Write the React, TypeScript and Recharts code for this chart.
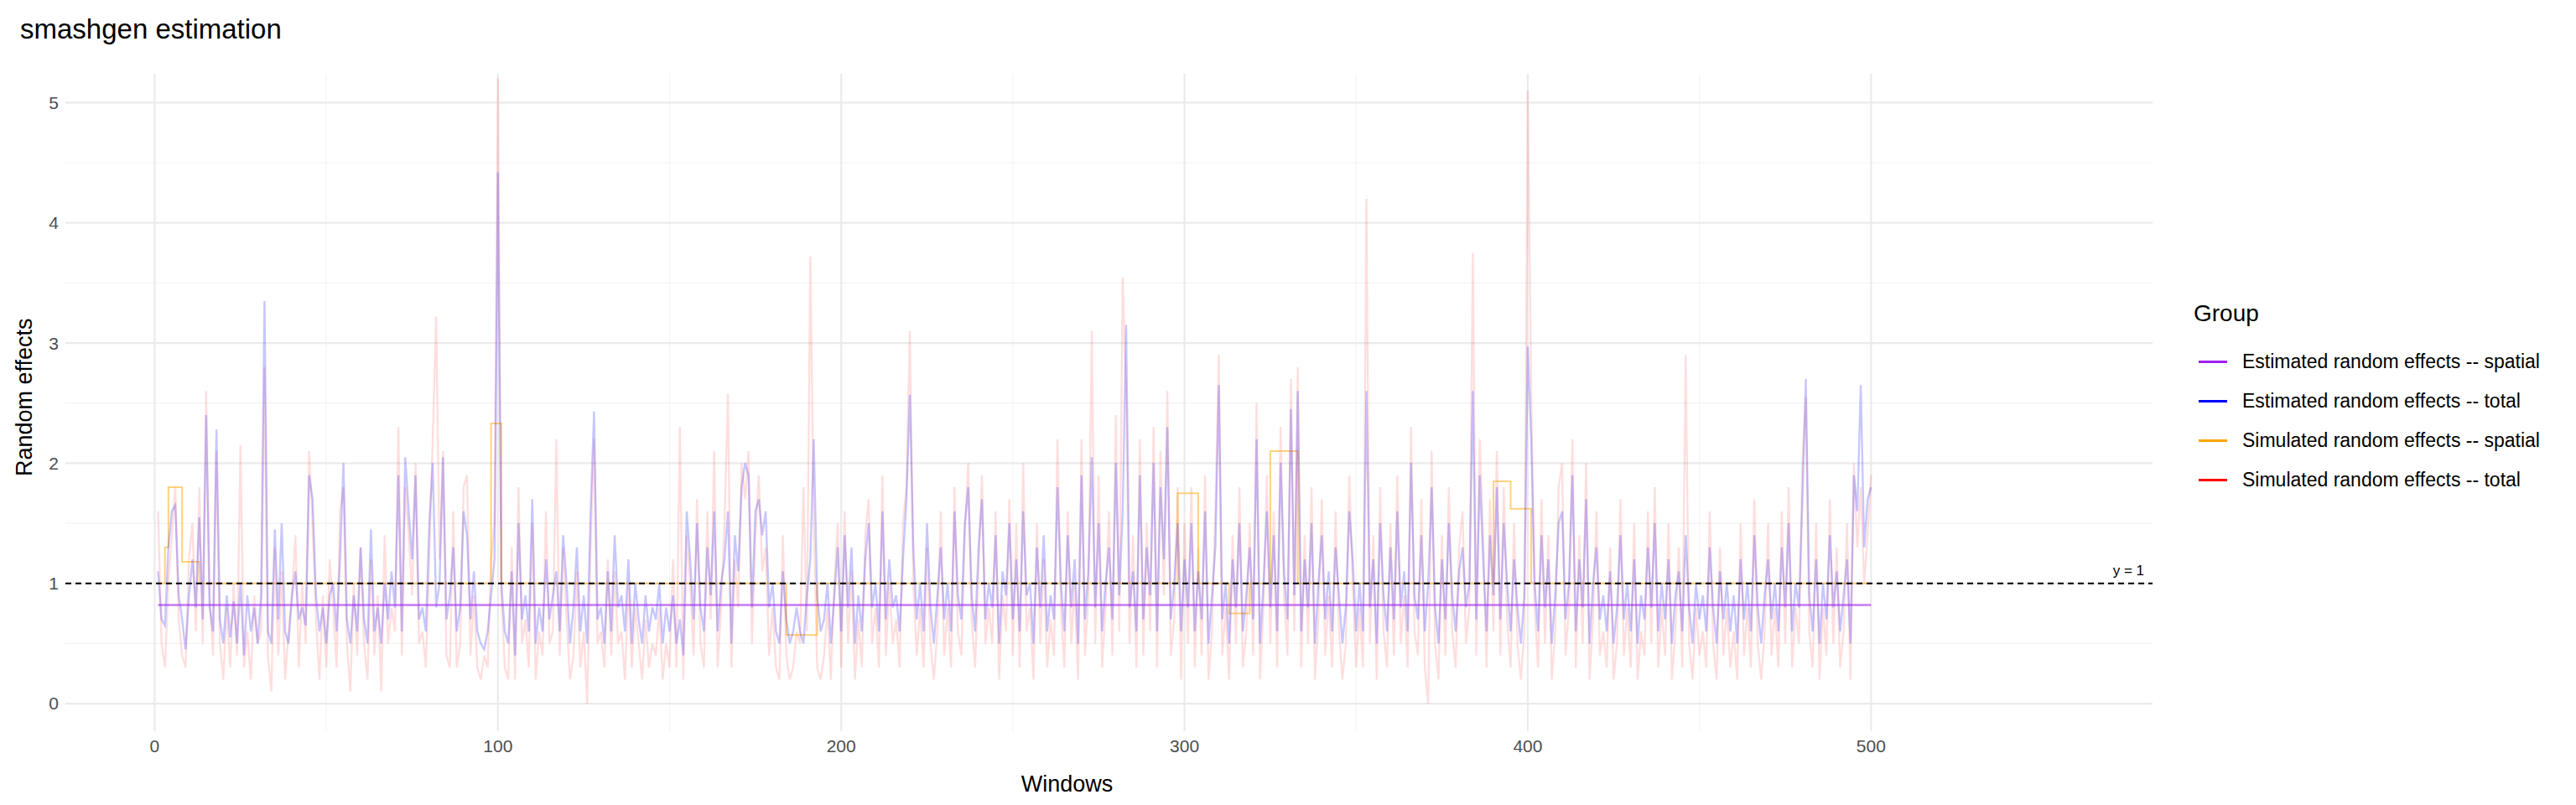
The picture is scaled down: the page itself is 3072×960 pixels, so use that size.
import React from 'react';
import { LineChart, Line, XAxis, YAxis, ReferenceLine } from 'recharts';

const estTotalStr = `1.1 0.7 0.65 1.3 1.6 1.65 0.9 0.7 0.45 0.9 1.2 0.8 1.55 0.7 2.4 0.8 0.6 2.28 0.7 0.5 0.9 0.55 0.85 0.5 1.0 0.4 0.9 0.6 0.8 0.5 0.9 3.35 0.6 0.5 1.45 0.7 1.5 0.6 0.5 0.9 1.1 0.7 0.8 0.65 1.9 1.7 0.9 0.6 0.8 0.5
0.9 1.0 0.6 1.2 2.0 0.7 0.5 0.9 0.6 1.3 0.7 0.5 1.45 0.6 0.8 0.5 1.0 0.7 1.1 0.8 1.9 0.6 2.05 1.6 1.2 1.9 0.7 0.8 0.6 1.5 2.0 0.8 1.0 2.05 0.7 0.9 1.3 0.6 0.8 1.6 1.4 0.7 1.1 0.6 0.5 0.45 0.6 0.9 1.2 4.42
1.0 0.6 0.5 1.1 0.4 1.5 0.7 0.9 0.6 1.7 0.5 0.8 0.6 1.2 0.7 0.9 1.1 0.6 1.4 1.0 0.5 0.8 1.3 0.6 0.9 0.5 1.6 2.43 0.7 0.8 0.5 1.1 0.6 1.4 0.8 0.9 0.6 1.2 0.5 1.0 0.7 0.5 0.9 0.6 0.8 0.7 1.0 0.5 0.8 0.6
0.9 0.5 0.7 0.4 1.6 1.2 0.7 1.5 0.8 0.6 1.3 0.9 1.6 0.6 1.0 1.2 1.6 0.5 1.4 1.1 1.8 2.0 1.9 0.8 1.6 1.7 1.4 1.6 0.8 1.0 0.6 0.5 1.1 0.7 0.5 0.6 0.8 0.6 0.5 0.9 1.2 2.2 0.9 0.6 0.7 1.0 0.5 0.9 1.3 0.6
1.4 0.8 1.3 0.5 0.9 0.6 1.2 1.5 0.8 1.0 0.6 1.6 0.7 1.2 0.8 0.9 0.6 1.2 1.7 2.57 1.3 0.7 1.0 0.6 1.5 0.8 0.5 0.9 1.3 0.7 1.0 0.6 1.6 0.9 0.7 1.5 1.8 0.9 0.6 1.3 1.7 0.7 1.0 0.8 1.4 0.5 1.1 0.9 1.5 0.7
1.2 0.6 1.6 0.9 1.0 0.5 1.3 0.8 1.4 0.6 0.9 0.7 1.8 1.0 0.6 1.4 0.8 1.2 0.5 1.9 0.7 1.1 2.05 0.8 1.5 0.6 1.0 1.3 0.7 2.0 0.9 1.6 3.15 0.8 1.1 0.6 1.9 0.7 1.3 0.9 2.0 0.6 1.8 1.2 2.3 0.7 1.0 1.5 0.6 1.2
0.8 1.5 0.6 1.1 0.7 1.6 0.5 0.9 1.3 2.65 0.7 1.0 0.5 1.2 0.8 1.5 0.6 0.9 1.3 0.7 2.2 0.5 1.0 1.6 0.8 1.4 0.6 2.0 1.1 0.7 2.45 0.9 2.6 0.6 1.2 0.8 1.5 0.5 1.0 1.4 0.7 1.1 0.6 1.3 0.9 0.5 0.8 1.6 1.2 0.6
1.0 0.6 2.6 0.8 1.2 0.5 1.5 0.9 0.6 1.3 0.7 1.6 0.8 1.1 0.6 2.0 0.9 0.7 1.4 0.6 1.0 1.8 0.8 0.5 1.2 0.7 1.5 0.9 0.6 1.1 1.3 0.8 1.0 2.6 0.7 1.9 1.2 0.6 1.4 0.9 1.8 0.7 1.5 1.0 0.6 1.2 0.8 0.5 0.9 2.97
2.2 1.0 0.6 1.4 0.8 1.2 0.5 0.9 1.5 1.6 0.7 1.0 1.9 0.6 1.2 0.8 1.7 0.5 1.0 1.3 0.7 0.9 0.6 1.1 0.5 0.8 1.4 0.7 1.0 0.6 1.2 0.5 0.9 0.7 1.3 0.8 1.5 0.6 1.0 0.7 1.2 0.5 0.9 1.1 0.6 1.4 0.8 0.5 1.0 0.7
0.9 0.6 1.3 0.8 0.5 1.1 0.7 1.0 0.6 0.9 0.5 1.2 0.7 1.0 0.6 1.4 0.8 0.5 0.9 1.2 0.7 1.0 0.6 1.3 0.8 1.5 0.6 1.0 0.8 1.7 2.7 0.9 0.6 1.2 0.5 1.0 0.7 1.4 0.8 1.1 0.6 0.9 1.2 0.5 1.9 1.6 2.65 1.3 1.7 1.8`;

const simTotalStr = `1.6 0.5 0.3 1.0 1.4 1.8 0.7 0.4 0.3 1.2 1.5 0.6 1.8 0.5 2.6 0.9 0.4 2.1 0.5 0.2 0.8 0.3 1.0 0.4 2.15 0.3 0.6 0.2 0.9 0.5 0.6 2.8 0.4 0.1 1.3 0.4 1.1 0.2 0.6 0.9 1.4 0.3 1.0 0.5 2.1 1.5 0.7 0.2 0.9 0.3
1.2 0.8 0.3 1.6 1.8 0.5 0.1 1.0 0.4 1.3 0.5 0.2 1.2 0.4 0.9 0.1 1.4 0.5 0.8 0.6 2.3 0.4 1.8 1.4 0.9 2.0 0.5 0.6 0.3 1.2 2.2 3.22 1.2 2.1 0.4 0.3 1.6 0.3 0.5 1.8 1.9 0.4 0.9 0.3 0.2 0.4 0.3 1.2 1.5 5.2
0.9 0.3 0.2 1.3 0.2 1.8 0.5 0.7 0.3 1.5 0.2 0.6 0.4 1.6 0.5 0.6 2.2 0.4 1.3 0.7 0.2 0.4 1.1 0.3 0.6 0.0 1.3 2.2 0.5 0.6 0.3 1.2 0.4 1.1 0.5 0.6 0.2 1.0 0.3 0.8 0.5 0.2 0.7 0.3 0.5 0.4 0.8 0.2 0.5 0.3
1.2 0.3 2.3 0.2 1.4 1.0 0.4 1.7 0.5 0.3 1.6 0.7 2.1 0.3 0.8 1.5 2.58 0.3 1.2 0.8 2.0 1.7 2.1 0.5 1.4 1.9 1.1 1.3 0.4 0.8 0.3 0.2 1.4 0.4 0.2 0.3 0.6 0.5 1.8 0.6 3.72 1.5 0.3 0.2 0.4 0.8 0.2 1.0 1.5 0.3
1.6 0.5 1.1 0.2 0.7 0.3 1.4 1.7 0.5 0.8 0.3 1.9 0.4 1.0 0.5 0.7 0.3 1.5 1.8 3.1 1.0 0.4 0.8 0.3 1.3 0.5 0.2 0.6 1.6 0.4 0.8 0.3 1.8 0.6 0.4 1.4 2.0 0.7 0.3 1.1 1.9 0.5 0.8 0.5 1.6 0.2 0.9 0.6 1.7 0.4
1.5 0.3 2.0 0.6 0.8 0.2 1.5 0.5 1.2 0.3 0.7 0.4 2.2 0.8 0.3 1.6 0.5 1.0 0.2 2.2 0.4 0.9 3.1 0.5 1.9 0.3 0.8 1.6 0.4 2.4 0.6 3.55 2.6 0.5 1.4 0.3 2.2 0.4 1.5 0.6 2.3 0.3 2.1 0.9 2.6 0.4 0.7 1.8 0.2 1.5
0.5 1.8 0.3 1.3 0.4 1.9 0.2 0.6 1.6 2.9 0.4 0.8 0.2 1.4 0.5 1.8 0.3 0.6 1.5 0.4 2.5 0.2 0.8 1.9 0.5 1.6 0.3 2.3 0.9 0.4 2.7 0.6 2.8 0.3 1.4 0.5 1.8 0.2 0.7 1.7 0.4 0.9 0.3 1.6 0.6 0.2 0.5 1.9 1.0 0.3
0.8 0.3 4.2 0.5 1.4 0.2 1.8 0.6 0.3 1.5 0.4 1.9 0.5 0.9 0.3 2.3 0.6 0.4 1.7 0.3 0.0 2.1 0.5 0.2 1.4 0.4 1.8 0.6 0.3 1.3 1.6 0.5 0.8 3.75 0.4 2.2 1.4 0.3 1.7 0.6 2.1 0.4 1.8 0.7 0.3 1.5 0.5 0.2 0.6 5.1
2.6 0.8 0.3 1.7 0.5 1.4 0.2 0.6 1.8 2.0 0.4 0.8 2.2 0.3 1.4 0.5 2.0 0.2 0.7 1.6 0.4 0.6 0.3 1.3 0.2 0.5 1.7 0.4 0.8 0.3 1.5 0.2 0.6 0.4 1.6 0.5 1.8 0.3 0.8 0.4 1.5 0.2 0.6 1.3 0.3 2.9 0.5 0.2 0.8 0.4
0.6 0.3 1.6 0.5 0.2 1.3 0.4 0.8 0.3 0.6 0.2 1.5 0.4 0.8 0.3 1.7 0.5 0.2 0.6 1.5 0.4 0.8 0.3 1.6 0.5 1.8 0.3 0.8 0.5 2.0 2.55 0.6 0.3 1.5 0.2 0.8 0.4 1.7 0.5 1.3 0.3 0.6 1.5 0.2 2.0 1.3 1.8 1.0 1.4 1.9`;

const estSpatialValue = 0.82;
const simSpatialStarts = [1, 3, 4, 8, 13, 98, 101, 184, 193, 298, 304, 313, 319, 325, 333, 390, 395, 401];
const simSpatialValues = [1.0, 1.3, 1.8, 1.18, 1.0, 2.33, 1.0, 0.57, 1.0, 1.75, 1.0, 0.75, 1.0, 2.1, 1.0, 1.85, 1.62, 1.0];

const xTicks = [0, 100, 200, 300, 400, 500];
const yTicks = [0, 1, 2, 3, 4, 5];
const xMinor = [50, 150, 250, 350, 450];
const yMinor = [0.5, 1.5, 2.5, 3.5, 4.5];

const legendItems = [
  { name: 'Estimated random effects -- spatial', color: '#A020F0' },
  { name: 'Estimated random effects -- total', color: '#0000FF' },
  { name: 'Simulated random effects -- spatial', color: '#FFA500' },
  { name: 'Simulated random effects -- total', color: '#FF0000' },
];

const parse = (s: string) => s.trim().split(/\s+/).map(Number);
const estTotal = parse(estTotalStr);
const simTotal = parse(simTotalStr);
const n = Math.min(estTotal.length, simTotal.length);

const simSpatialAt = (x: number) => {
  let v = simSpatialValues[0];
  for (let i = 0; i < simSpatialStarts.length; i++) if (x >= simSpatialStarts[i]) v = simSpatialValues[i];
  return v;
};

const data = Array.from({ length: n }, (_, i) => ({
  x: i + 1,
  estTotal: estTotal[i],
  simTotal: simTotal[i],
  estSpatial: estSpatialValue,
  simSpatial: simSpatialAt(i + 1),
}));

const font = '"Liberation Sans", Arial, sans-serif';

export default function App() {
  return (
    <div style={{ position: 'relative', width: 3056, height: 944, fontFamily: font }}>
      <div style={{ position: 'absolute', left: 16, top: 8, fontSize: 33, color: '#000' }}>smashgen estimation</div>
      <div style={{ position: 'absolute', left: 6, top: 560, transform: 'rotate(-90deg)', transformOrigin: 'left top', fontSize: 27, whiteSpace: 'nowrap' }}>Random effects</div>
      <LineChart width={3056} height={944} data={data} margin={{ top: 80, right: 497, bottom: 0, left: 0 }}>
        {xMinor.map((v) => (
          <ReferenceLine key={'xm' + v} x={v} stroke="#F4F4F4" strokeWidth={1.2} />
        ))}
        {yMinor.map((v) => (
          <ReferenceLine key={'ym' + v} y={v} stroke="#F4F4F4" strokeWidth={1.2} />
        ))}
        {xTicks.map((v) => (
          <ReferenceLine key={'xM' + v} x={v} stroke="#EBEBEB" strokeWidth={2.2} />
        ))}
        {yTicks.map((v) => (
          <ReferenceLine key={'yM' + v} y={v} stroke="#EBEBEB" strokeWidth={2.2} />
        ))}
        <XAxis dataKey="x" type="number" domain={[-26, 582]} ticks={xTicks} axisLine={false} tickLine={false}
          height={80} tick={{ fontSize: 21, fill: '#4D4D4D', fontFamily: font }} tickMargin={4}
          label={{ value: 'Windows', position: 'insideBottom', offset: 8, fontSize: 27, fill: '#000', fontFamily: font, dx: -50 }} />
        <YAxis type="number" domain={[-0.23, 5.24]} ticks={yTicks} axisLine={false} tickLine={false} width={70}
          tick={{ fontSize: 21, fill: '#4D4D4D', fontFamily: font }} />
        <Line dataKey="simTotal" stroke="#FF0000" strokeOpacity={0.13} strokeWidth={2.4} dot={false} isAnimationActive={false} />
        <Line dataKey="simSpatial" type="stepAfter" stroke="#FFA500" strokeOpacity={0.5} strokeWidth={2} dot={false} isAnimationActive={false} />
        <Line dataKey="estTotal" stroke="#0000FF" strokeOpacity={0.22} strokeWidth={2.4} dot={false} isAnimationActive={false} />
        <Line dataKey="estSpatial" stroke="#A020F0" strokeOpacity={0.6} strokeWidth={2.4} dot={false} isAnimationActive={false} />
        <ReferenceLine y={1} stroke="#000" strokeDasharray="7 5" strokeWidth={2}
          label={{ value: 'y = 1', position: 'insideBottomRight', offset: 10, fontSize: 17, fill: '#000', fontFamily: font }} />
      </LineChart>
      <div style={{ position: 'absolute', left: 2608, top: 350, fontFamily: font }}>
        <div style={{ fontSize: 28, marginBottom: 18 }}>Group</div>
        {legendItems.map((it) => (
          <div key={it.name} style={{ display: 'flex', alignItems: 'center', height: 47 }}>
            <div style={{ width: 34, height: 3, background: it.color, marginRight: 18, marginLeft: 6 }} />
            <span style={{ fontSize: 23 }}>{it.name}</span>
          </div>
        ))}
      </div>
    </div>
  );
}
